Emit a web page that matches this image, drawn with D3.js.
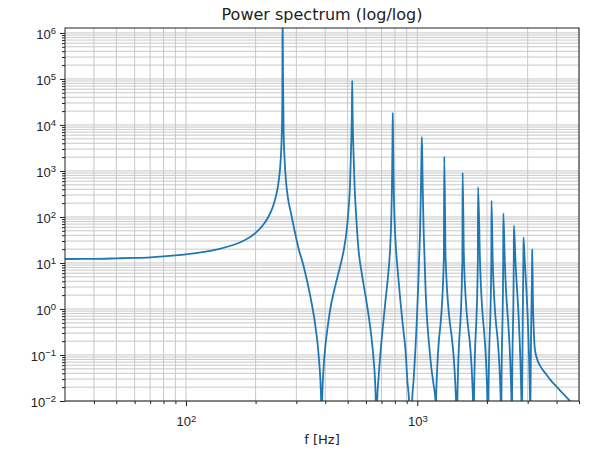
<!DOCTYPE html>
<html>
<head>
<meta charset="utf-8">
<script src="https://cdn.jsdelivr.net/npm/d3@7"></script>
<style>
  body { margin: 0; background: #fff; }
  svg { font-family: "DejaVu Sans", sans-serif; }
  .grid line { stroke: #c8c8c8; stroke-width: 1; }
  .axis path { display: none; }
  .axis line { stroke: #222; }
  .axis text { font-size: 13px; fill: #222; }
</style>
</head>
<body>
<div id="chart"></div>
<script>
/* power spectrum (log/log) */

// spectrum: frequency in Hz and power

var freq = [
  30, 40, 50, 60, 70, 80, 90, 100, 120, 140, 160, 180, 200, 215, 227, 235, 242, 248, 252, 255, 257, 259, 260, 261, 261.6,
  262.8, 264.3, 267, 270.4, 275.9, 284.3, 294.4, 306.3, 323, 345, 363, 375, 384, 386,
  388, 393, 401, 411, 421.4, 435.5, 450.5, 465.6, 481.1, 494.2, 504.2, 511.8, 517, 521.5, 523.2, 525, 529.5,
  535.4, 543.9, 557.1, 574.1, 594.3, 615.4, 634.1, 648.7, 656.5, 661, 665,
  671, 680, 693.6, 711, 729, 747.3, 762.4, 771.5, 777.7, 781, 783.2, 786, 789.6, 797.5, 809.5, 825.9, 846.7,
  868, 890, 907.8, 921, 935,
  950, 964, 978.3, 993, 1008, 1018, 1028, 1036.6, 1041.6, 1046, 1051, 1056, 1065, 1075.6, 1086, 1102.6,
  1125, 1153, 1176.6, 1198, 1202,
  1205, 1302, 1308, 1326, 1470, 1482,
  1490, 1566, 1570, 1591, 1741, 1750,
  1758, 1827, 1831, 1866, 2010, 2020,
  2030, 2089, 2093, 2118, 2294, 2302,
  2310, 2351, 2355, 2388, 2553, 2560,
  2568, 2612, 2616, 2656, 2819, 2828,
  2836, 2874, 2878, 2913, 3072, 3078,
  3085, 3136, 3139, 3160, 3188, 3219, 3284, 3419, 3594, 3777, 4009, 4256, 4533, 4845
];

var power = [
  12.2, 12.3, 12.6, 12.9, 13.3, 13.9, 14.6, 15.4, 17.4, 20.3, 24.6, 31.5, 45, 66, 100, 144, 225, 380, 630, 1100, 1900, 4400, 9000, 39000, 3e6,
  95000, 7780, 1730, 637, 259, 122, 52, 21.2, 8.3, 1.85, 0.41, 0.092, 0.0105, 0.0005,
  0.0105, 0.0472, 0.165, 0.449, 1.05, 2.34, 4.72, 9.05, 19.2, 47.2, 142, 497, 2860, 20000, 92000, 20000, 2860,
  497, 110, 19.2, 6.37, 2.23, 0.741, 0.234, 0.0705, 0.0286, 0.0105, 0.0005,
  0.0105, 0.0316, 0.116, 0.449, 1.57, 5.21, 19.2, 86, 637, 4000, 18250, 4000, 637, 86, 19.2, 5.48, 1.35,
  0.40, 0.12, 0.0238, 0.0105, 0.0005,
  0.0105, 0.0286, 0.1, 0.449, 2.59, 11.6, 52, 386, 1733, 5480, 1733, 386, 52, 11.6, 2.59, 0.577,
  0.165, 0.0472, 0.0223, 0.0105, 0.0005,
  0.0105, 11.6, 2050, 11.6, 0.0105, 0.0005,
  0.0105, 11.6, 920, 11.6, 0.0105, 0.0005,
  0.0105, 11.6, 442, 11.6, 0.0105, 0.0005,
  0.0105, 11.6, 226, 11.6, 0.0105, 0.0005,
  0.0105, 11.6, 120, 11.6, 0.0105, 0.0005,
  0.0105, 11.6, 65, 11.6, 0.0105, 0.0005,
  0.0105, 11.6, 36, 11.6, 0.0105, 0.0005,
  0.0105, 11.6, 20, 1.6, 0.35, 0.142, 0.086, 0.055, 0.039, 0.028, 0.0202, 0.0146, 0.0105, 0.0076
];

// ticks and labels

var xMajor = [100, 1000],
    xLabels = ["2", "3"];

var yMajor = [1e-2, 1e-1, 1e0, 1e1, 1e2, 1e3, 1e4, 1e5, 1e6],
    yLabels = ["\u22122", "\u22121", "0", "1", "2", "3", "4", "5", "6"];

var xMinor = [40, 50, 60, 70, 80, 90, 200, 300, 400, 500, 600, 700, 800, 900, 2000, 3000, 4000, 5000];

var yMinor = [];
yMajor.slice(0, -1).forEach(function(d) {
  for (var k = 2; k < 10; k++) yMinor.push(d * k);
});

// margins, adjusted widths and heights

var width = 595,
    height = 450,
    marginTop = 28,
    marginRight = 16,
    marginBottom = 49,
    marginLeft = 65,
    widthAdj = width - marginLeft - marginRight,
    heightAdj = height - marginTop - marginBottom;

// scales

var xScale = d3.scaleLog().domain([30, 5000]).range([0, widthAdj]);
var yScale = d3.scaleLog().domain([0.01, 1.28e6]).range([heightAdj, 0]);

// svg

var svg = d3.select("#chart")
  .append("svg")
    .attr("width", width)
    .attr("height", height)
    .append("g")
      .attr("transform", "translate(" + marginLeft + "," + marginTop + ")");

// grid, major and minor

var grid = svg.append("g").attr("class", "grid");

grid.selectAll(".gx")
  .data(xMajor.concat(xMinor))
  .enter()
  .append("line")
    .attr("class", "gx")
    .attr("x1", function(d) { return xScale(d); })
    .attr("x2", function(d) { return xScale(d); })
    .attr("y1", 0)
    .attr("y2", heightAdj);

grid.selectAll(".gy")
  .data(yMajor.concat(yMinor))
  .enter()
  .append("line")
    .attr("class", "gy")
    .attr("x1", 0)
    .attr("x2", widthAdj)
    .attr("y1", function(d) { return yScale(d); })
    .attr("y2", function(d) { return yScale(d); });

// spectrum line

svg.append("clipPath")
  .attr("id", "clip")
  .append("rect")
    .attr("width", widthAdj)
    .attr("height", heightAdj);

var line = d3.line()
  .curve(d3.curveMonotoneX)
  .x(function(d) { return xScale(d[0]); })
  .y(function(d) { return yScale(d[1]); });

svg.append("path")
  .datum(d3.zip(freq, power))
  .attr("clip-path", "url(#clip)")
  .attr("fill", "none")
  .attr("stroke", "#1f77b4")
  .attr("stroke-width", 1.8)
  .attr("stroke-linejoin", "round")
  .attr("d", line);

// axes

var gx = svg.append("g")
  .attr("class", "axis")
  .attr("transform", "translate(0," + heightAdj + ")")
  .call(d3.axisBottom(xScale).tickValues(xMajor).tickSize(5).tickFormat(""));

svg.append("g")
  .attr("class", "axis")
  .attr("transform", "translate(0," + heightAdj + ")")
  .call(d3.axisBottom(xScale).tickValues(xMinor).tickSize(3).tickFormat(""));

var gy = svg.append("g")
  .attr("class", "axis")
  .call(d3.axisLeft(yScale).tickValues(yMajor).tickSize(5).tickPadding(4).tickFormat(""));

svg.append("g")
  .attr("class", "axis")
  .call(d3.axisLeft(yScale).tickValues(yMinor).tickSize(3).tickFormat(""));

// tick labels as 10 with a raised exponent

gx.selectAll(".tick text")
  .attr("y", 25)
  .attr("dy", null)
  .each(function(d, i) {
    var t = d3.select(this);
    t.append("tspan").text("10");
    t.append("tspan").attr("dy", "-0.45em").attr("font-size", "9.5px").text(xLabels[i]);
  });

gy.selectAll(".tick text")
  .attr("dy", "0.4em")
  .each(function(d, i) {
    var t = d3.select(this);
    t.append("tspan").text("10");
    t.append("tspan").attr("dy", "-0.45em").attr("font-size", "9.5px").text(yLabels[i]);
  });

// frame

svg.append("rect")
  .attr("width", widthAdj)
  .attr("height", heightAdj)
  .attr("fill", "none")
  .attr("stroke", "#222")
  .attr("stroke-width", 1);

// title and axis label

svg.append("text")
  .attr("x", widthAdj / 2)
  .attr("y", -8.5)
  .attr("text-anchor", "middle")
  .attr("font-size", "16px")
  .attr("fill", "#222")
  .text("Power spectrum (log/log)");

svg.append("text")
  .attr("x", widthAdj / 2)
  .attr("y", heightAdj + 43)
  .attr("text-anchor", "middle")
  .attr("font-size", "13px")
  .attr("fill", "#222")
  .text("f [Hz]");
</script>
</body>
</html>
